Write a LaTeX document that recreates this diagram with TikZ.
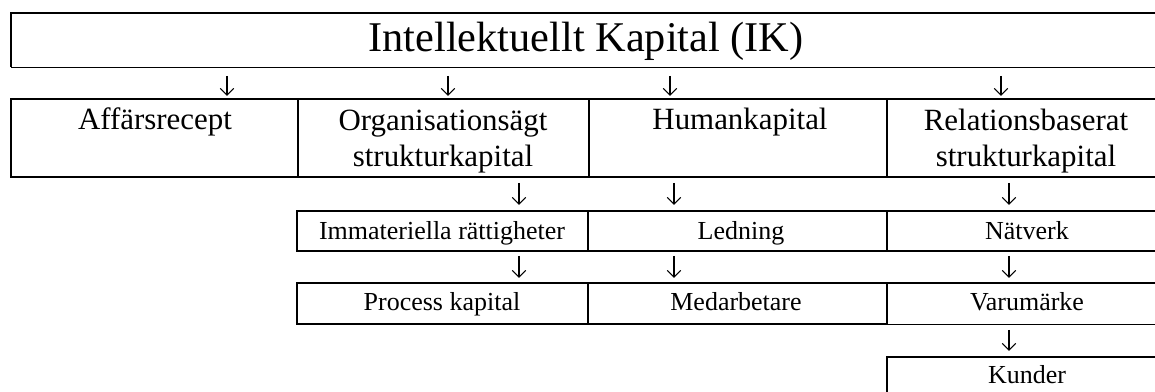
\documentclass[tikz,border=0pt]{standalone}
\usepackage{fontspec}
\setmainfont{Liberation Serif}
\usetikzlibrary{arrows.meta}
\tikzset{
  thickln/.style={line width=0.58pt},
  thinln/.style={line width=0.3pt},
  txt/.style={anchor=base, inner sep=0pt, align=center},
  big/.style={font=\fontsize{16.3}{19}\selectfont},
  mid/.style={font=\fontsize{11.9}{14.2}\selectfont},
  sml/.style={font=\fontsize{10}{12}\selectfont},
  dn/.style={line width=0.42pt, -{Straight Barb[length=2.6pt,width=5.2pt]}},
}
\begin{document}
\begin{tikzpicture}[x=0.385pt,y=-0.385pt]
\useasboundingbox (0,0) rectangle (1155,392);
\clip (0,0) rectangle (1155,392);
% top box
\draw[thickln] (1160,13) -- (11,13) -- (11,67);
\draw[thinln] (11,67) -- (1160,67);
% row 2
\draw[thickln] (11,99) rectangle (1160,177);
\draw[thickln] (298,99) -- (298,177) (589,99) -- (589,177) (887,99) -- (887,177);
% row 3
\draw[thickln] (297,211) rectangle (1160,251);
\draw[thickln] (588,211) -- (588,251) (887,211) -- (887,251);
% row 4
\draw[thickln] (1160,283) -- (297,283) -- (297,324) -- (887,324);
\draw[thinln] (887,324) -- (1160,324);
\draw[thickln] (588,283) -- (588,324) (887,283) -- (887,324);
% row 5
\draw[thickln] (887,400) -- (887,357) -- (1160,357);

% texts
\node[txt,big] (ik) at (586,52) {Intellektuellt Kapital (IK)};
\node[txt,mid] (aff) at (155,130) {Affärsrecept};
\node[txt,mid] (org) at (443,167) {Organisationsägt\\strukturkapital};
\node[txt,mid] (hum) at (740,130) {Humankapital};
\node[txt,mid] (rel) at (1026,167) {Relationsbaserat\\strukturkapital};
\node[txt,sml] (imm) at (442,240) {Immateriella rättigheter};
\node[txt,sml] (led) at (741,240) {Ledning};
\node[txt,sml] (nat) at (1027,240) {Nätverk};
\node[txt,sml] (proc) at (442,311) {Process kapital};
\node[txt,sml] (med) at (736,311) {Medarbetare};
\node[txt,sml] (var) at (1027,311) {Varumärke};
\node[txt,sml] (kun) at (1027,384) {Kunder};

% arrow end points
\foreach \n/\x in {a/227,b/448,c/670,d/1001}{
  \coordinate (r1\n s) at (\x,76);
  \coordinate (r1\n e) at (\x,96);
  \draw[dn] (r1\n s) -- (r1\n e);
}
\foreach \n/\x in {a/519,b/674,c/1009}{
  \coordinate (r2\n s) at (\x,183);
  \coordinate (r2\n e) at (\x,205);
  \draw[dn] (r2\n s) -- (r2\n e);
  \coordinate (r3\n s) at (\x,256);
  \coordinate (r3\n e) at (\x,278);
  \draw[dn] (r3\n s) -- (r3\n e);
}
\coordinate (r4s) at (1009,330);
\coordinate (r4e) at (1009,351);
\draw[dn] (r4s) -- (r4e);
\end{tikzpicture}
\end{document}
